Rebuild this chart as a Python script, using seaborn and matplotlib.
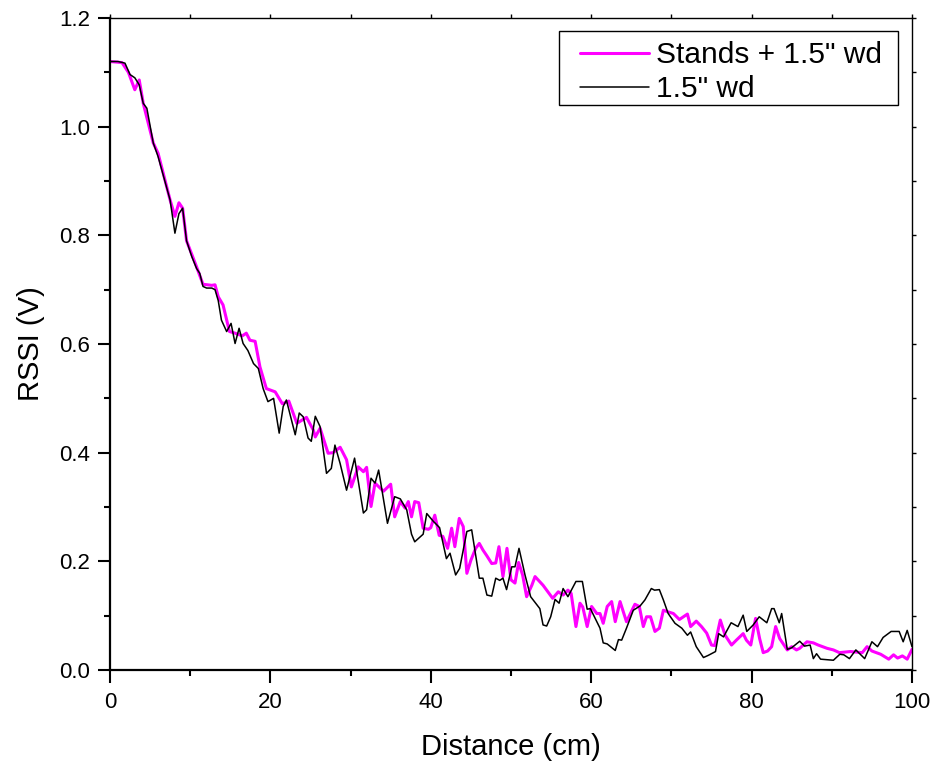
import pandas as pd
import seaborn as sns
import matplotlib.pyplot as plt
from matplotlib.patches import Rectangle
from matplotlib.transforms import IdentityTransform
from matplotlib.ticker import MultipleLocator

# values
stands_x = [0, 1.5, 2.3, 3.1, 3.65, 4.15, 5.4, 6.0, 7.5, 8.1, 8.6, 9.06, 9.55, 10.2, 10.8,
            11.6, 12.7, 13.1, 13.5, 14.1, 14.9, 15.6, 16.5, 17.0, 17.45, 18.1, 18.7, 19.5,
            20.6, 21.5, 22.3, 23.3, 24.5, 25.35, 25.6, 26.2, 27.2, 27.8, 28.7, 29.5, 30.1,
            30.95, 31.6, 32.0, 32.55, 33.05, 34.1, 35.0, 35.5, 36.2, 36.8, 37.2, 37.6, 38.0,
            38.5, 39.05, 39.7, 40.0, 40.5, 41.05, 41.5, 42.1, 42.6, 43.0, 43.55, 44.05, 44.5,
            45.0, 45.6, 46.05, 46.5, 47.0, 47.6, 48.1, 48.5, 49.0, 49.5, 50.0, 50.5, 50.95,
            51.45, 51.95, 52.6, 53.0, 54.0, 55.2, 55.9, 56.5, 57.1, 57.5, 58.1, 58.6, 58.95,
            59.5, 60.05, 60.7, 61.1, 61.5, 62.0, 62.55, 63.0, 63.6, 64.4, 65.45, 66.0, 66.5,
            66.9, 67.4, 67.95, 68.5, 69.0, 69.6, 70.25, 71.0, 72.0, 72.4, 73.1, 73.75, 74.4,
            75.0, 75.4, 76.1, 76.7, 77.5, 78.1, 78.95, 79.35, 79.9, 80.5, 81.0, 81.45, 82.0,
            82.5, 83.0, 83.5, 84.45, 85.0, 85.6, 86.0, 86.9, 87.7, 88.3, 89.4, 90.2, 90.95,
            92.3, 93.8, 94.4, 95.0, 96.1, 97.1, 97.7, 98.2, 98.8, 99.4, 100]
stands_v = [1.12, 1.118, 1.10, 1.068, 1.086, 1.043, 0.970, 0.951, 0.865, 0.835, 0.86, 0.85,
            0.79, 0.765, 0.742, 0.71, 0.708, 0.709, 0.687, 0.672, 0.623, 0.620, 0.615, 0.620,
            0.607, 0.605, 0.558, 0.518, 0.512, 0.49, 0.495, 0.454, 0.465, 0.442, 0.429, 0.445,
            0.399, 0.40, 0.410, 0.387, 0.337, 0.374, 0.365, 0.373, 0.301, 0.344, 0.329, 0.342,
            0.282, 0.310, 0.298, 0.310, 0.282, 0.310, 0.308, 0.261, 0.259, 0.262, 0.285, 0.248,
            0.246, 0.224, 0.261, 0.227, 0.279, 0.264, 0.178, 0.202, 0.224, 0.233, 0.221, 0.210,
            0.196, 0.197, 0.227, 0.172, 0.224, 0.166, 0.160, 0.198, 0.175, 0.135, 0.156, 0.172,
            0.156, 0.132, 0.144, 0.138, 0.147, 0.141, 0.080, 0.123, 0.116, 0.080, 0.117, 0.104,
            0.104, 0.086, 0.117, 0.126, 0.089, 0.126, 0.089, 0.121, 0.117, 0.080, 0.098, 0.098,
            0.071, 0.077, 0.110, 0.107, 0.104, 0.093, 0.103, 0.080, 0.090, 0.080, 0.068, 0.046,
            0.045, 0.092, 0.064, 0.046, 0.055, 0.067, 0.055, 0.046, 0.095, 0.058, 0.032, 0.035,
            0.043, 0.080, 0.058, 0.037, 0.043, 0.037, 0.040, 0.052, 0.050, 0.046, 0.040, 0.037,
            0.032, 0.034, 0.032, 0.043, 0.035, 0.029, 0.020, 0.028, 0.022, 0.026, 0.020, 0.038]

wd_x = [0, 1.0, 1.87, 2.5, 3.1, 3.65, 4.15, 4.6, 5.4, 6.0, 7.5, 8.1, 8.6, 9.06, 9.55, 10.2,
        10.8, 11.2, 11.6, 12.05, 12.7, 13.1, 13.5, 13.9, 14.55, 15.1, 15.6, 16.1, 16.6, 17.2,
        17.9, 18.5, 19.1, 19.7, 20.4, 21.1, 21.6, 22.0, 23.1, 23.6, 24.1, 24.7, 25.1, 25.6,
        26.2, 27.0, 27.6, 28.05, 28.7, 29.5, 30.5, 31.6, 32.0, 32.55, 33.05, 33.5, 34.6, 35.5,
        36.2, 37.0, 37.6, 38.0, 39.05, 39.5, 40.3, 41.1, 41.95, 42.4, 43.1, 43.6, 44.5, 45.1,
        46.05, 46.5, 47.0, 47.6, 48.1, 48.6, 49.0, 49.45, 50.1, 50.5, 51.0, 51.75, 52.45, 53.6,
        54.0, 54.45, 54.95, 55.5, 56.0, 56.5, 57.1, 58.1, 58.9, 59.5, 59.9, 60.5, 61.1, 61.5,
        62.0, 63.0, 63.4, 63.8, 64.4, 65.25, 66.1, 66.7, 67.5, 67.9, 68.5, 69.0, 69.6, 70.45,
        71.3, 72.0, 72.4, 73.1, 74.0, 74.6, 75.5, 75.9, 76.5, 77.45, 78.3, 78.95, 79.4, 80.2,
        80.95, 81.9, 82.5, 82.8, 83.45, 83.75, 84.45, 85.0, 86.0, 86.6, 87.3, 87.7, 88.1, 88.6,
        90.2, 91.0, 91.5, 92.2, 93.0, 94.1, 95.0, 95.7, 96.4, 97.4, 98.4, 98.9, 99.4, 100]
wd_v = [1.12, 1.12, 1.117, 1.096, 1.09, 1.077, 1.043, 1.034, 0.970, 0.945, 0.865, 0.804,
        0.84, 0.85, 0.79, 0.761, 0.739, 0.730, 0.706, 0.703, 0.703, 0.700, 0.68, 0.644, 0.623,
        0.638, 0.601, 0.629, 0.601, 0.588, 0.564, 0.555, 0.518, 0.494, 0.500, 0.436, 0.485,
        0.497, 0.433, 0.473, 0.466, 0.427, 0.421, 0.467, 0.448, 0.362, 0.371, 0.414, 0.380,
        0.331, 0.390, 0.289, 0.295, 0.353, 0.344, 0.368, 0.270, 0.319, 0.315, 0.295, 0.250,
        0.236, 0.250, 0.288, 0.274, 0.262, 0.205, 0.215, 0.175, 0.187, 0.255, 0.258, 0.169,
        0.169, 0.138, 0.136, 0.169, 0.165, 0.169, 0.148, 0.190, 0.190, 0.224, 0.175, 0.135,
        0.113, 0.083, 0.081, 0.098, 0.130, 0.123, 0.150, 0.135, 0.163, 0.163, 0.112, 0.113,
        0.095, 0.077, 0.050, 0.048, 0.036, 0.056, 0.055, 0.077, 0.110, 0.118, 0.129, 0.150,
        0.147, 0.148, 0.129, 0.104, 0.086, 0.077, 0.064, 0.070, 0.043, 0.023, 0.027, 0.034,
        0.067, 0.061, 0.087, 0.080, 0.101, 0.071, 0.083, 0.098, 0.087, 0.113, 0.113, 0.087,
        0.104, 0.038, 0.041, 0.053, 0.044, 0.046, 0.021, 0.030, 0.020, 0.018, 0.029, 0.028,
        0.021, 0.037, 0.021, 0.052, 0.043, 0.060, 0.071, 0.071, 0.052, 0.073, 0.043]

labels = ['Stands + 1.5" wd', '1.5" wd']

sns.set_theme(style='white')
plt.rcParams['font.family'] = ['Liberation Sans', 'DejaVu Sans']
plt.rcParams['text.color'] = 'black'
plt.rcParams['axes.labelcolor'] = 'black'
plt.rcParams['xtick.color'] = 'black'
plt.rcParams['ytick.color'] = 'black'

fig = plt.figure(figsize=(9.35, 7.64), dpi=100)
ax = fig.add_axes([0.1176, 0.1230, 0.8578, 0.8534])

sns.lineplot(x=stands_x, y=stands_v, ax=ax, color='#ff00ff', linewidth=2.2,
             sort=False, estimator=None, label=labels[0])
sns.lineplot(x=wd_x, y=wd_v, ax=ax, color='black', linewidth=1.1,
             sort=False, estimator=None, label=labels[1])

ax.set_xlim(0, 100)
ax.set_ylim(0, 1.2)
ax.xaxis.set_major_locator(MultipleLocator(20))
ax.xaxis.set_minor_locator(MultipleLocator(10))
ax.yaxis.set_major_locator(MultipleLocator(0.2))
ax.yaxis.set_minor_locator(MultipleLocator(0.1))
ax.set_xticklabels([f'{v:.0f}' for v in ax.get_xticks()])
ax.set_yticklabels([f'{v:.1f}' for v in ax.get_yticks()])

ax.tick_params(which='major', direction='out', length=9, width=1.5, color='black',
               labelsize=16, labelcolor='black', bottom=True, left=True, top=False, right=False)
ax.tick_params(which='minor', direction='out', length=4.5, width=1.5, color='black',
               bottom=True, left=True, top=False, right=False)
ax.tick_params(axis='x', which='major', pad=7)
ax.tick_params(axis='y', which='major', pad=5.5)

for side in ['left', 'bottom']:
    ax.spines[side].set_linewidth(1.6)
    ax.spines[side].set_color('black')
for side in ['top', 'right']:
    ax.spines[side].set_linewidth(1.0)
    ax.spines[side].set_color('black')

# short ticks on the top and right frame
top = ax.secondary_xaxis('top')
top.xaxis.set_major_locator(MultipleLocator(10))
top.tick_params(direction='out', length=3, width=1, color='black', labeltop=False)
top.spines['top'].set_visible(False)
right = ax.secondary_yaxis('right')
right.yaxis.set_major_locator(MultipleLocator(0.1))
right.tick_params(direction='out', length=3, width=1, color='black', labelright=False)
right.spines['right'].set_visible(False)

ax.set_xlabel('Distance (cm)', fontsize=21, labelpad=14, color='black')
ax.set_ylabel('RSSI (V)', fontsize=21, labelpad=10, color='black')

# legend without its own frame; an Origin-style box with uneven padding goes round it
leg = ax.legend(loc='upper right', bbox_to_anchor=(0.9626, 0.9643), fontsize=21.5,
                frameon=False, handlelength=2.3, handletextpad=0.25,
                labelspacing=0.2, borderpad=0, borderaxespad=0)
for t in leg.get_texts():
    t.set_color('black')

fig.canvas.draw()
bb = leg.get_window_extent()
pad_l, pad_r, pad_t, pad_b = 21, 16, 10, 2
box = Rectangle((bb.x0 - pad_l, bb.y0 - pad_b), bb.width + pad_l + pad_r,
                bb.height + pad_t + pad_b, transform=IdentityTransform(),
                facecolor='none', edgecolor='black', linewidth=1.0)
fig.add_artist(box)

fig.savefig('out.png', dpi=100)
